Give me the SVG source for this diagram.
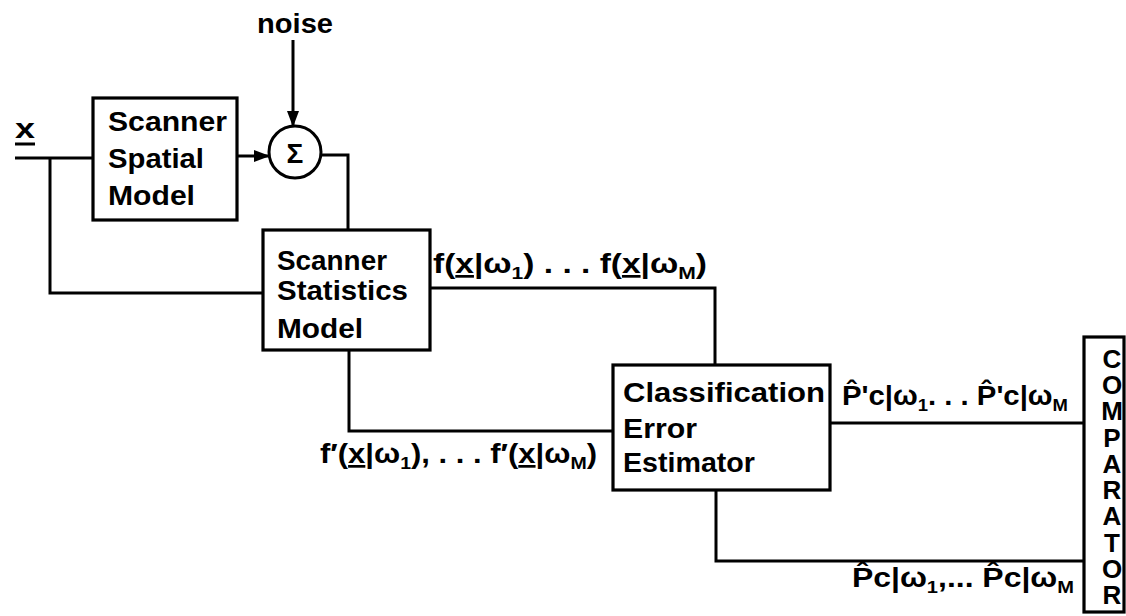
<svg xmlns="http://www.w3.org/2000/svg" width="1126" height="616" viewBox="0 0 1126 616">
  <defs>
    <style>
      .box { fill: #fff; stroke: #000; stroke-width: 3.2; }
      .wire { fill: none; stroke: #000; stroke-width: 3; }
      .t { font-family: "Liberation Sans", Arial, sans-serif; font-weight: bold; font-size: 28px; fill: #000; }
      .lab { font-family: "Liberation Sans", Arial, sans-serif; font-weight: bold; font-size: 27px; fill: #000; }
      .sub { font-size: 17px; }
      .ul { text-decoration: underline; }
      .cmp { font-family: "Liberation Sans", Arial, sans-serif; font-weight: bold; font-size: 26px; fill: #000; writing-mode: vertical-rl; text-orientation: upright; }
    </style>
    <marker id="ah" markerWidth="16" markerHeight="12" refX="15" refY="6" orient="auto" markerUnits="userSpaceOnUse">
      <path d="M0,0 L16,6 L0,12 Z" fill="#000"/>
    </marker>
  </defs>
  <rect width="1126" height="616" fill="#fff"/>

  <!-- connectors -->
  <g id="connectors">
    <!-- input x to spatial model -->
    <path class="wire" d="M15,158 H93"/>
    <!-- branch of x to statistics model -->
    <path class="wire" d="M50,158 V293 H263"/>
    <!-- spatial model to summing junction -->
    <path class="wire" d="M237,156 H269" marker-end="url(#ah)"/>
    <!-- noise into summing junction -->
    <path class="wire" d="M293,40 V126" marker-end="url(#ah)"/>
    <!-- summing junction to statistics model -->
    <path class="wire" d="M321,155 H348 V230"/>
    <!-- densities to error estimator -->
    <path class="wire" d="M430,288 H715 V365"/>
    <!-- derivative densities to error estimator -->
    <path class="wire" d="M349,350 V431 H613"/>
    <!-- estimator outputs to comparator -->
    <path class="wire" d="M830,423 H1084"/>
    <path class="wire" d="M716,490 V561 H1084"/>
  </g>

  <!-- input label -->
  <g id="input">
    <text class="lab" x="15" y="138" textLength="20" lengthAdjust="spacingAndGlyphs">x</text>
    <line x1="15" y1="144" x2="35" y2="144" stroke="#000" stroke-width="3"/>
  </g>

  <!-- noise source -->
  <g id="noise">
    <text class="lab" x="257" y="33" textLength="76" lengthAdjust="spacingAndGlyphs">noise</text>
  </g>

  <!-- scanner spatial model -->
  <g id="spatial-model">
    <rect class="box" x="93" y="98" width="144" height="122"/>
    <text class="t" x="108" y="131" textLength="119" lengthAdjust="spacingAndGlyphs">Scanner</text>
    <text class="t" x="108" y="168" textLength="96" lengthAdjust="spacingAndGlyphs">Spatial</text>
    <text class="t" x="108" y="205" textLength="87" lengthAdjust="spacingAndGlyphs">Model</text>
  </g>

  <!-- summing junction -->
  <g id="sum">
    <circle cx="295" cy="152" r="26" fill="#fff" stroke="#000" stroke-width="3"/>
    <text class="t" x="295" y="163" text-anchor="middle" font-size="32">Σ</text>
  </g>

  <!-- scanner statistics model -->
  <g id="statistics-model">
    <rect class="box" x="263" y="230" width="167" height="120"/>
    <text class="t" x="277" y="270" textLength="110" lengthAdjust="spacingAndGlyphs">Scanner</text>
    <text class="t" x="277" y="300" textLength="131" lengthAdjust="spacingAndGlyphs">Statistics</text>
    <text class="t" x="277" y="338" textLength="86" lengthAdjust="spacingAndGlyphs">Model</text>
  </g>

  <!-- density labels -->
  <g id="density-labels">
    <text class="lab" x="433" y="273" textLength="274" lengthAdjust="spacingAndGlyphs">f(<tspan class="ul">x</tspan>|ω<tspan class="sub" dy="6">1</tspan><tspan dy="-6">) . . . f(</tspan><tspan class="ul">x</tspan>|ω<tspan class="sub" dy="6">M</tspan><tspan dy="-6">)</tspan></text>
    <text class="lab" x="320" y="463" textLength="277" lengthAdjust="spacingAndGlyphs">f′(<tspan class="ul">x</tspan>|ω<tspan class="sub" dy="6">1</tspan><tspan dy="-6">), . . . f′(</tspan><tspan class="ul">x</tspan>|ω<tspan class="sub" dy="6">M</tspan><tspan dy="-6">)</tspan></text>
  </g>

  <!-- classification error estimator -->
  <g id="error-estimator">
    <rect class="box" x="613" y="365" width="217" height="125"/>
    <text class="t" x="623" y="402" textLength="202" lengthAdjust="spacingAndGlyphs">Classification</text>
    <text class="t" x="623" y="438" textLength="74" lengthAdjust="spacingAndGlyphs">Error</text>
    <text class="t" x="623" y="472" textLength="132" lengthAdjust="spacingAndGlyphs">Estimator</text>
  </g>

  <!-- error estimate labels (estimated P with circumflex) -->
  <g id="estimate-labels">
    <text class="lab" x="842" y="405" textLength="226" lengthAdjust="spacingAndGlyphs">P̂'c|ω<tspan class="sub" dy="6">1</tspan><tspan dy="-6">. . . P̂'c|ω</tspan><tspan class="sub" dy="6">M</tspan></text>
    <text class="lab" x="852" y="587" textLength="222" lengthAdjust="spacingAndGlyphs">P̂c|ω<tspan class="sub" dy="6">1</tspan><tspan dy="-6">,... P̂c|ω</tspan><tspan class="sub" dy="6">M</tspan></text>
  </g>

  <!-- comparator, label set vertically with upright letters -->
  <g id="comparator">
    <rect class="box" x="1084" y="337" width="40" height="275"/>
    <text class="cmp" x="1112" y="344" textLength="266" lengthAdjust="spacing">COMPARATOR</text>
  </g>
</svg>
